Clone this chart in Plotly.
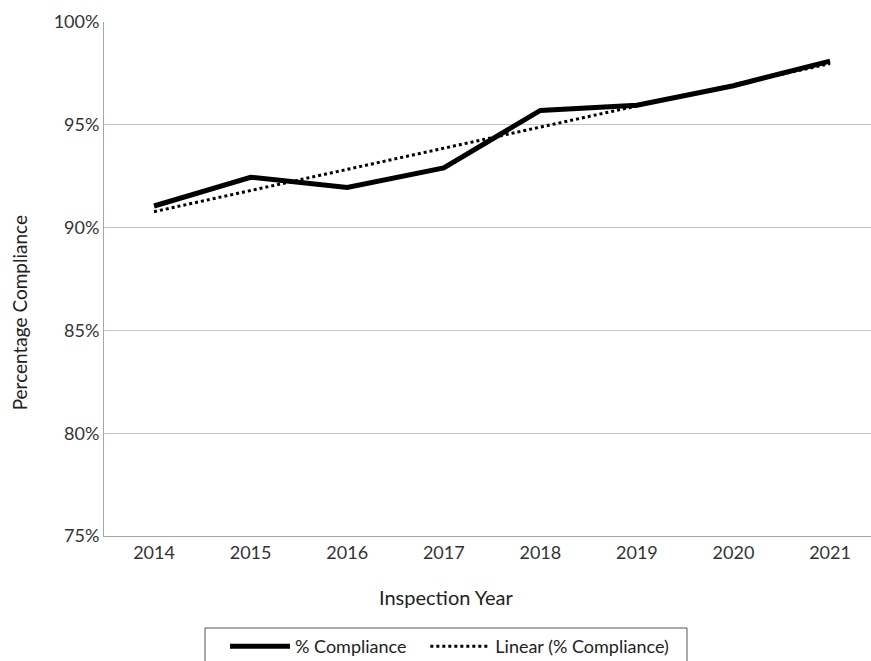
import numpy as np
import plotly.graph_objects as go

years = ["2014", "2015", "2016", "2017", "2018", "2019", "2020", "2021"]
compliance = [91.05, 92.45, 91.95, 92.9, 95.7, 95.95, 96.9, 98.1]
y_ticks = [75, 80, 85, 90, 95, 100]
y_tick_labels = ["75%", "80%", "85%", "90%", "95%", "100%"]

x_idx = np.arange(len(years))
slope, intercept = np.polyfit(x_idx, compliance, 1)
trend = slope * x_idx + intercept

FONT = "Lato"
fig = go.Figure()
fig.add_trace(go.Scatter(x=x_idx, y=compliance, mode="lines",
                         name="% Compliance" + "\u00a0" * 3,
                         line=dict(color="black", width=5)))
fig.add_trace(go.Scatter(x=x_idx, y=trend, mode="lines", name="Linear (% Compliance)",
                         line=dict(color="black", width=3, dash="dot")))

fig.update_layout(
    width=871, height=661,
    margin=dict(l=104, r=0, t=22, b=125, autoexpand=False),
    paper_bgcolor="white", plot_bgcolor="white",
    font=dict(family=FONT, size=18, color="#333333"),
    xaxis=dict(range=[-0.518, 7.424], tickmode="array", tickvals=list(x_idx), ticktext=years,
               showgrid=False, showline=True, linecolor="#a6a6a6", linewidth=1,
               ticks="", zeroline=False, automargin=False),
    yaxis=dict(range=[75, 100], tickmode="array", tickvals=y_ticks, ticktext=y_tick_labels,
               showgrid=True, gridcolor="#c4c4c4", gridwidth=1, automargin=False,
               showline=True, linecolor="#a6a6a6", linewidth=1, ticks="", zeroline=False),
    annotations=[
        dict(text="Percentage Compliance", textangle=-90, xref="paper", yref="paper",
             x=-0.109, y=0.434, xanchor="center", yanchor="middle", showarrow=False,
             font=dict(size=19, color="#222222")),
        dict(text="Inspection Year", xref="paper", yref="paper",
             x=0.447, y=-0.1187, xanchor="center", yanchor="middle", showarrow=False,
             font=dict(size=20, color="#222222")),
    ],
    shapes=[dict(type="rect", xref="paper", yref="paper", x0=0.1317, x1=0.7601,
                 y0=-0.30, y1=-0.179, line=dict(color="#555555", width=1))],
    legend=dict(orientation="h", xref="paper", yref="container", x=(225 - 104) / 767,
                y=(661 - 628) / 661, xanchor="left", yanchor="top",
                bgcolor="rgba(0,0,0,0)", borderwidth=0, itemwidth=60,
                font=dict(size=18, color="#222222")),
    showlegend=True,
)

fig.write_html("out.html")
